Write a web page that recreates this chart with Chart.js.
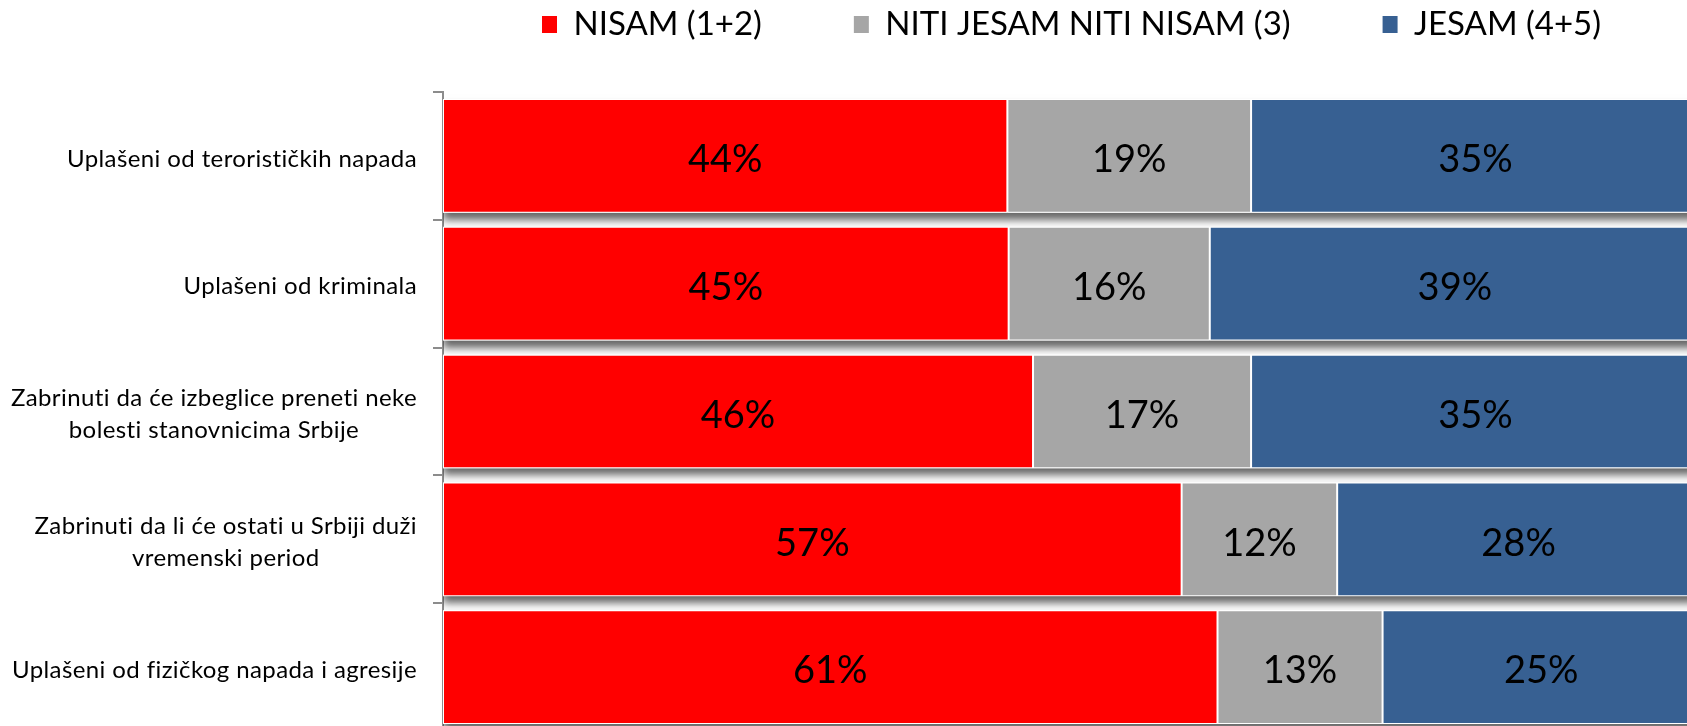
<!DOCTYPE html>
<html>
<head>
<meta charset="utf-8">
<script src="https://cdn.jsdelivr.net/npm/chart.js@4.4.1/dist/chart.umd.min.js"></script>
<style>
  html,body{margin:0;padding:0;background:#fff;}
  #frame{width:1687px;height:726px;overflow:hidden;position:relative;}
  #box{position:absolute;left:0;top:0;width:1710px;height:731px;}
</style>
</head>
<body>
<div id="frame"><div id="box"><canvas id="chart"></canvas></div></div>
<script>
const categories = [
  'Uplašeni od terorističkih napada',
  'Uplašeni od kriminala',
  ['Zabrinuti da će izbeglice preneti neke', 'bolesti stanovnicima Srbije'],
  ['Zabrinuti da li će ostati u Srbiji duži', 'vremenski period'],
  'Uplašeni od fizičkog napada i agresije'
];
const seriesNames = ['NISAM (1+2)', 'NITI JESAM NITI NISAM (3)', 'JESAM (4+5)'];
const nisam = [44, 45, 46, 57, 61];
const niti = [19, 16, 17, 12, 13];
const jesam = [35, 39, 35, 28, 25];
const colors = ['#FF0000', '#A6A6A6', '#376092'];

(function(){
  // 100% stacked, like the original: each row is scaled to its own total
  const totals = nisam.map((v, i) => v + niti[i] + jesam[i]);
  const share = arr => arr.map((v, i) => v / totals[i] * 100);

  const datasets = [nisam, niti, jesam].map((vals, k) => ({
    label: seriesNames[k],
    data: share(vals),
    values: vals,
    backgroundColor: colors[k],
    borderColor: '#ffffff',
    borderWidth: 1,
    borderSkipped: false,
    barPercentage: 0.89,
    categoryPercentage: 1
  }));

  const rowShadow = {
    id: 'rowShadow',
    beforeDatasetsDraw(chart){
      const { ctx, chartArea: a } = chart;
      const first = chart.getDatasetMeta(0).data;
      const last = chart.getDatasetMeta(datasets.length - 1).data;
      ctx.save();
      ctx.beginPath();
      ctx.rect(a.left, a.top, a.right - a.left, a.bottom - a.top);
      ctx.clip();
      ctx.shadowColor = 'rgba(0,0,0,0.6)';
      ctx.shadowBlur = 8;
      ctx.shadowOffsetY = 7;
      ctx.fillStyle = '#ffffff';
      first.forEach((el, i) => {
        const p = el.getProps(['base', 'y', 'height'], true);
        const q = last[i].getProps(['x'], true);
        ctx.fillRect(p.base, p.y - p.height / 2, q.x - p.base, p.height);
      });
      ctx.restore();
    }
  };

  const valueLabels = {
    id: 'valueLabels',
    afterDatasetsDraw(chart){
      const ctx = chart.ctx;
      ctx.save();
      ctx.font = '38px Lato';
      ctx.fillStyle = '#000';
      ctx.textAlign = 'center';
      ctx.textBaseline = 'middle';
      chart.data.datasets.forEach((d, k) => {
        chart.getDatasetMeta(k).data.forEach((el, i) => {
          const p = el.getProps(['x', 'base', 'y'], true);
          ctx.fillText(d.values[i] + '%', (p.x + p.base) / 2, p.y + 4);
        });
      });
      ctx.restore();
    }
  };

  // category labels: block right-aligned, lines centred inside the block
  const rowLabels = {
    id: 'rowLabels',
    afterDraw(chart){
      const { ctx } = chart;
      const s = chart.scales.y;
      ctx.save();
      ctx.font = '24px Lato';
      ctx.letterSpacing = '0.4px';
      ctx.fillStyle = '#000';
      ctx.textAlign = 'center';
      ctx.textBaseline = 'middle';
      chart.data.labels.forEach((c, i) => {
        const lines = [].concat(c);
        const y = s.getPixelForValue(i);
        const w = Math.max(...lines.map(t => ctx.measureText(t).width));
        const cx = s.right - 26 - w / 2;
        lines.forEach((t, j) => ctx.fillText(t, cx, y + (j - (lines.length - 1) / 2) * 32 + 3));
      });
      ctx.restore();
    }
  };

  new Chart(document.getElementById('chart').getContext('2d'), {
    type: 'bar',
    data: { labels: categories, datasets },
    plugins: [rowShadow, valueLabels, rowLabels],
    options: {
      indexAxis: 'y',
      responsive: true,
      maintainAspectRatio: false,
      animation: false,
      layout: { padding: { top: -84, right: 10, bottom: 0, left: 0 } },
      scales: {
        x: {
          position: 'top', stacked: true, min: 0, max: 100,
          grid: { display: false }, border: { display: false },
          ticks: { display: false },
          afterFit: s => { s.height = 41; }
        },
        y: {
          stacked: true,
          grid: { display: true, drawOnChartArea: false, tickLength: 10, color: '#8c8c8c', lineWidth: 2 },
          border: { display: true, color: '#8c8c8c', width: 2 },
          ticks: { display: false },
          afterFit: s => { s.width = 443; }
        }
      },
      plugins: {
        tooltip: { enabled: false },
        legend: {
          position: 'top',
          fullSize: false,
          labels: {
            font: { family: 'Lato', size: 33 },
            color: '#000',
            boxWidth: 15,
            boxHeight: 17,
            padding: 92,
            generateLabels: chart => Chart.defaults.plugins.legend.labels.generateLabels(chart)
              .map(l => Object.assign(l, { lineWidth: 0 }))
          }
        }
      }
    }
  });
})();
</script>
</body>
</html>
